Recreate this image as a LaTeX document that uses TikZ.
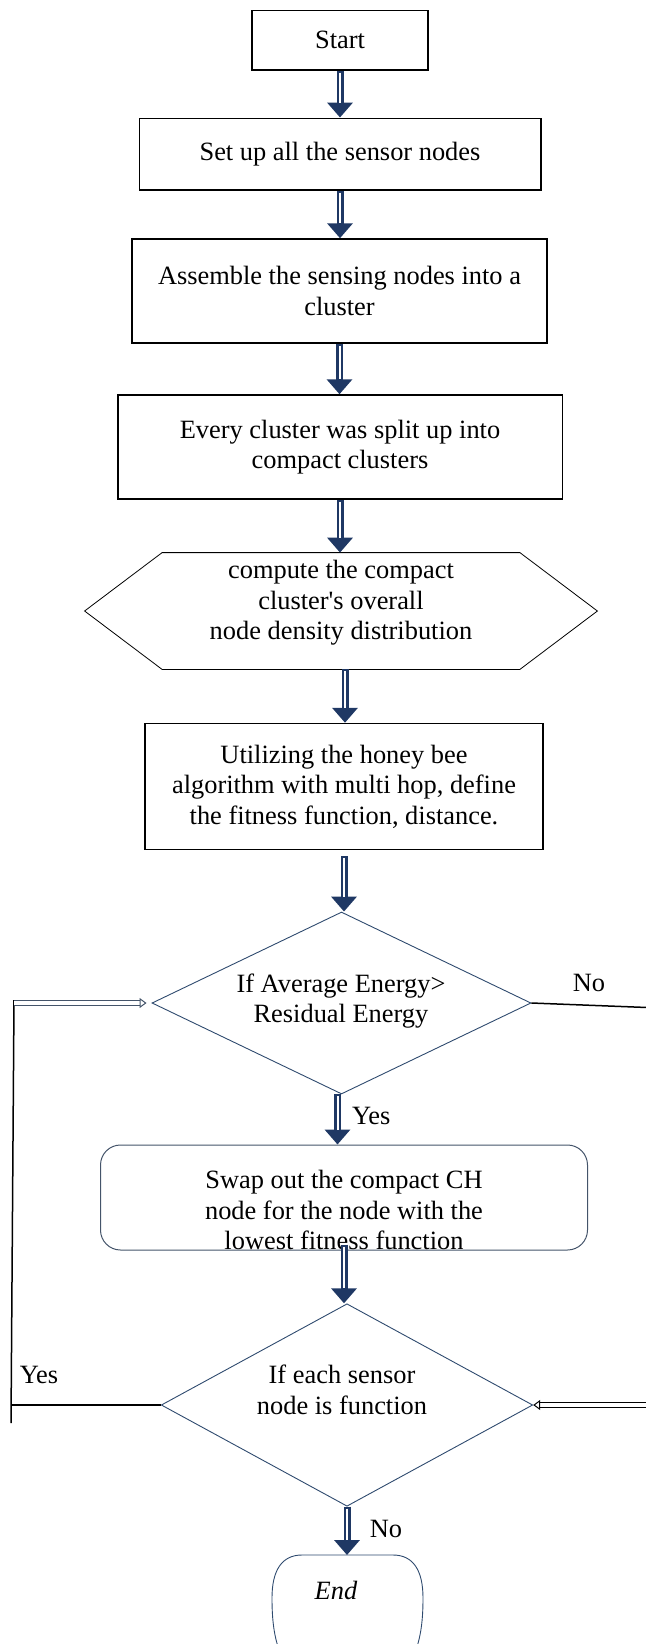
\documentclass[tikz,border=0pt]{standalone}
\usepackage{fontspec}
\setmainfont{Liberation Serif}
\usetikzlibrary{positioning}
\usetikzlibrary{shapes.geometric, arrows.meta}

\definecolor{arrowblue}{HTML}{1F3864}
\definecolor{lineblue}{HTML}{2E4A6E}
\definecolor{boxgray}{HTML}{44546A}

\tikzset{
  flowtext/.style={font=\fontsize{13.2}{15.3}\selectfont, align=center, text=black},
  stepbox/.style={rectangle, draw=black, line width=0.75pt, flowtext, inner sep=2pt},
  decision/.style={diamond, draw=lineblue, line width=0.45pt, inner sep=0pt, aspect=2},
  bigarrow/.style={draw=arrowblue, line width=3.5pt, -{Triangle[width=12.5pt,length=7.5pt]},
    postaction={draw=white, line width=1pt, shorten >=7.5pt, shorten <=1pt, arrows=-}},
  loopline/.style={draw=black, line width=0.75pt},
  openarrow/.style={draw=black, line width=0.5pt, double=white, double distance=1.6pt, -{Triangle[open,width=5pt,length=3.5pt]}},
}

\begin{document}
\begin{tikzpicture}[x=0.5pt,y=-0.5pt]
\useasboundingbox (0,0) rectangle (646,1644);

% boxes of the flow
\node[stepbox, minimum width=88pt, minimum height=29.75pt] (start) at (340,40) {Start};
\node[stepbox, minimum width=200.75pt, minimum height=35.75pt] (setup) at (340,154) {Set up all the sensor nodes};
\node[stepbox, minimum width=207.5pt, minimum height=52pt] (assemble) at (339.5,291) {Assemble the sensing nodes into a\\cluster};
\node[stepbox, minimum width=222.25pt, minimum height=52pt] (split) at (340,447) {Every cluster was split up into\\compact clusters};

% hexagon
\node[rectangle, draw=none, minimum width=256pt, minimum height=58pt, inner sep=0pt] (density) at (341,611) {};
\draw[black, line width=0.4pt] (density.west) -- ([xshift=38.75pt]density.north west) -- ([xshift=-38.75pt]density.north east) -- (density.east) -- ([xshift=-38.75pt]density.south east) -- ([xshift=38.75pt]density.south west) -- cycle;
\node[flowtext] (densitytext) at (341,603) {compute the compact\\cluster\textquotesingle s overall\\node density distribution};

\node[stepbox, minimum width=199pt, minimum height=63pt] (honeybee) at (344,786.5) {Utilizing the honey bee\\algorithm with multi hop, define\\the fitness function, distance.};

% decisions
\node[decision, minimum width=189.5pt, minimum height=91pt] (energy) at (341.5,1003) {};
\node[flowtext] (energytext) at (341,1001) {If Average Energy\textgreater\\Residual Energy};

\node[rectangle, rounded corners=10pt, draw=boxgray, line width=0.5pt, minimum width=243.5pt, minimum height=52.5pt] (swap) at (344,1197.5) {};
\node[flowtext] (swaptext) at (344,1210) {Swap out the compact CH\\node for the node with the\\lowest fitness function};

\node[decision, minimum width=185.75pt, minimum height=101.25pt] (sensor) at (347,1405) {};
\node[flowtext] (sensortext) at (342,1390) {If each sensor\\node is function};

% end
\node[flowtext, inner sep=0pt, minimum width=60pt, minimum height=35pt, anchor=north] (end) at (336,1555) {\textit{End}};
\draw[lineblue, line width=0.45pt] (279,1650) .. controls (274,1635) and (272,1620) .. (272,1598) .. controls (272,1570) and (282,1555) .. (302,1555) -- (393,1555) .. controls (413,1555) and (423,1570) .. (423,1598) .. controls (423,1620) and (421,1635) .. (416,1650);

% labels
\node[flowtext, anchor=west] (yesone) at (345,1116) {Yes};
\node[flowtext] (noone) at (589,983) {No};
\node[flowtext] (yestwo) at (39,1375) {Yes};
\node[flowtext] (notwo) at (386,1529) {No};

% main arrows
\draw[bigarrow] (start.south) -- (start.south |- setup.north);
\draw[bigarrow] (setup.south) -- (setup.south |- assemble.north);
\draw[bigarrow] (assemble.south) -- (assemble.south |- split.north);
\draw[bigarrow] (split.south) -- (split.south |- density.north);
\draw[bigarrow] ([xshift=2pt]density.south) -- ([xshift=2pt]density.south |- honeybee.north);
\draw[bigarrow] ([yshift=-3pt]honeybee.south) -- (honeybee.south |- energy.north);
\draw[bigarrow] ([xshift=-2pt]energy.south) -- ([xshift=-2pt]energy.south |- swap.north);
\draw[bigarrow] ([yshift=3pt]swap.south) -- (swap.south |- sensor.north);
\draw[bigarrow] (sensor.south) -- (sensor.south |- end.north);

% loop on the left
\coordinate (lefttop) at (14,1000);
\coordinate (leftbot) at (11,1423);
\draw[loopline] (lefttop) -- (leftbot);
\draw[loopline] (sensor.west) -- (sensor.west -| leftbot);
\draw[openarrow, draw=boxgray, shorten >=2.5pt] ([yshift=-1.5pt]lefttop) -- (energy.west);

% loop on the right
\coordinate (righttop) at (660,1008);
\coordinate (rightbot) at (660,1405);
\draw[loopline] (energy.east) -- (righttop);
\draw[openarrow] (rightbot) -- (sensor.east);

\end{tikzpicture}
\end{document}
